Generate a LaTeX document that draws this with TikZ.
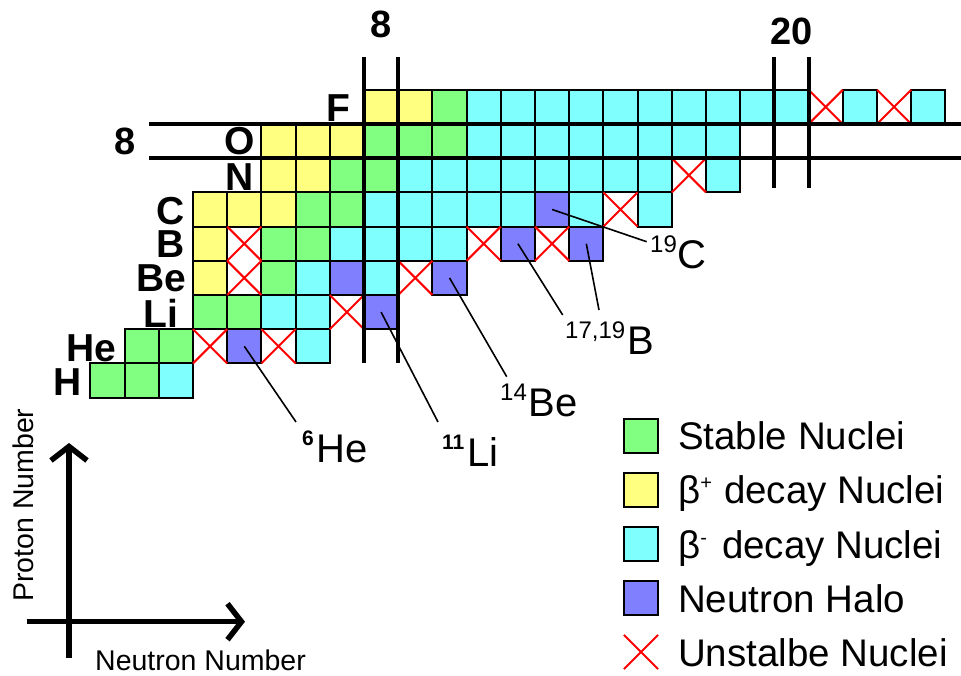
\documentclass[tikz,border=0pt]{standalone}
\usepackage{fontspec}
\setmainfont{Liberation Sans}
\usetikzlibrary{shapes.misc,arrows.meta}

% nuclide colours
\definecolor{nucg}{RGB}{128,255,128}% stable
\definecolor{nucy}{RGB}{255,255,128}% beta+ decay
\definecolor{nucc}{RGB}{128,255,255}% beta- decay
\definecolor{nuch}{RGB}{128,128,255}% neutron halo

\newcommand\supsz{\fontsize{24}{24}\selectfont}
\newcommand\boldsup{\fontsize{21}{21}\selectfont\bfseries}

\begin{document}
\begin{tikzpicture}[x=34.2pt,y=34.2pt,
  cell/.style={draw=black, line width=2pt, minimum size=34.2pt, inner sep=0pt, outer sep=0pt},
  unbound/.style={cross out, draw=red, line width=2pt, minimum size=34.2pt, inner sep=0pt, outer sep=0pt},
  magic/.style={line width=4pt},
  elem/.style={font={\fontsize{39}{39}\selectfont\bfseries}, anchor=base east, inner sep=0pt},
  magicnum/.style={font={\fontsize{38}{38}\selectfont\bfseries}, anchor=base, inner sep=0pt},
  isotope/.style={font={\fontsize{40}{40}\selectfont}, anchor=base west, inner sep=0pt},
  leader/.style={line width=1.6pt},
  legtext/.style={font={\fontsize{38.5}{38.5}\selectfont}, anchor=base west, inner sep=0pt},
  axisline/.style={line width=5.5pt, -{Straight Barb[length=14pt,width=36pt]}},
  axlabel/.style={font={\fontsize{28.5}{28.5}\selectfont}, inner sep=0pt},
]
\useasboundingbox (-2.6433,-7.1111) rectangle (25.4561,12.6257);

% coloured nuclides: row = proton number Z, entries = neutron number / kind
\foreach \z/\cells in {
  1/{0/g,1/g,2/c},
  2/{1/g,2/g,4/h,6/c},
  3/{3/g,4/g,5/c,6/c,8/h},
  4/{3/y,5/g,6/c,7/h,8/c,10/h},
  5/{3/y,5/g,6/g,7/c,8/c,9/c,10/c,12/h,14/h},
  6/{3/y,4/y,5/y,6/g,7/g,8/c,9/c,10/c,11/c,12/c,13/h,14/c,16/c},
  7/{5/y,6/y,7/g,8/g,9/c,10/c,11/c,12/c,13/c,14/c,15/c,16/c,18/c},
  8/{5/y,6/y,7/y,8/g,9/g,10/g,11/c,12/c,13/c,14/c,15/c,16/c,17/c,18/c},
  9/{8/y,9/y,10/g,11/c,12/c,13/c,14/c,15/c,16/c,17/c,18/c,19/c,20/c,22/c,24/c}}{
  \foreach \n/\k in \cells {
    \node[cell, fill=nuc\k] (n\n-\z) at (\n+0.5,\z+0.5) {};
  }
}

% unbound nuclides
\foreach \n/\z in {3/2,5/2,7/3,4/4,9/4,4/5,11/5,13/5,15/6,17/7,21/9,23/9}{
  \node[unbound] (x\n-\z) at (\n+0.5,\z+0.5) {};
}

% magic number lines
\coordinate (m8a-top) at (8,10.95);  \coordinate (m8a-bot) at (8,2);
\coordinate (m8b-top) at (9,10.95);  \coordinate (m8b-bot) at (9,2);
\coordinate (m20a-top) at (20,10.95); \coordinate (m20a-bot) at (20,7.12);
\coordinate (m20b-top) at (21,10.95); \coordinate (m20b-bot) at (21,7.12);
\coordinate (z8a-l) at (1.72,9); \coordinate (z8a-r) at (25.46,9);
\coordinate (z8b-l) at (1.72,8); \coordinate (z8b-r) at (25.46,8);
\draw[magic] (m8a-top) -- (m8a-bot);
\draw[magic] (m8b-top) -- (m8b-bot);
\draw[magic] (m20a-top) -- (m20a-bot);
\draw[magic] (m20b-top) -- (m20b-bot);
\draw[magic] (z8a-l) -- (z8a-r);
\draw[magic] (z8b-l) -- (z8b-r);

\node[magicnum] (lab-n8) at (8.5,11.515) {8};
\node[magicnum] (lab-n20) at (20.5,11.31) {20};
\node[magicnum] (lab-z8) at (1.01,8.094) {8};

% element symbols
\node[elem] (el-H)  at (-0.25,1.076) {H};
\node[elem] (el-He) at (0.77,2.041) {He};
\node[elem] (el-Li) at (2.58,3.064) {Li};
\node[elem] (el-Be) at (2.80,4.088) {Be};
\node[elem] (el-B)  at (2.75,5.111) {B};
\node[elem] (el-C)  at (2.75,6.06) {C};
\node[elem] (el-N)  at (4.78,7.07) {N};
\node[elem] (el-O)  at (4.80,8.12) {O};
\node[elem] (el-F)  at (7.60,9.06) {F};

% halo nuclei labels
\node[isotope] (iso-he6) at (6.187,-0.883) {\raisebox{17pt}{\boldsup 6}\hspace{3pt}He};
\node[isotope] (iso-li11) at (10.281,-1.029) {\raisebox{17pt}{\boldsup 11}\hspace{3pt}Li};
\node[isotope] (iso-be14) at (11.977,0.433) {\raisebox{16pt}{\supsz 14}\hspace{2pt}Be};
\node[isotope] (iso-b1719) at (13.877,2.246) {\raisebox{16pt}{\supsz 17,19}\hspace{2pt}B};
\node[isotope] (iso-c19) at (16.363,4.789) {\raisebox{16pt}{\supsz 19}\hspace{1pt}C};

\coordinate (he6-end) at (6.012,0.287);
\coordinate (li11-end) at (10.164,0.287);
\coordinate (be14-end) at (12.173,1.611);
\coordinate (b17-end) at (13.810,3.415);
\coordinate (b19-end) at (14.871,3.561);
\coordinate (c19-end) at (16.266,5.558);
\draw[leader] (n4-2.center) -- (he6-end);
\draw[leader] (n8-3.center) -- (li11-end);
\draw[leader] (n10-4.center) -- (be14-end);
\draw[leader] (n12-5.center) -- (b17-end);
\draw[leader] (n14-5.center) -- (b19-end);
\draw[leader] (n13-6.center) -- (c19-end);

% axes
\coordinate (yax-from) at (-0.626,-6.614);
\coordinate (yax-to) at (-0.626,-0.327);
\coordinate (xax-from) at (-1.854,-5.553);
\coordinate (xax-to) at (4.520,-5.553);
\draw[axisline] (yax-from) -- (yax-to);
\draw[axisline] (xax-from) -- (xax-to);
\node[axlabel, rotate=90, anchor=base west] (lab-proton) at (-1.670,-4.977) {Proton Number};
\node[axlabel, anchor=base west] (lab-neutron) at (0.135,-6.965) {Neutron Number};

% legend
\node[cell, fill=nucg] (leg-g) at (16.099,-0.123) {};
\node[cell, fill=nucy] (leg-y) at (16.099,-1.702) {};
\node[cell, fill=nucc] (leg-c) at (16.099,-3.281) {};
\node[cell, fill=nuch] (leg-h) at (16.099,-4.860) {};
\node[unbound] (leg-x) at (16.099,-6.439) {};
\node[legtext] (legt-g) at (17.181,-0.532) {Stable Nuclei};
\node[legtext] (legt-y) at (17.181,-2.111) {β\raisebox{14pt}{\fontsize{20}{20}\selectfont +}\hspace{12pt}decay Nuclei};
\node[legtext] (legt-c) at (17.181,-3.690) {β\raisebox{14pt}{\fontsize{20}{20}\selectfont -}\hspace{15pt}decay Nuclei};
\node[legtext] (legt-h) at (17.181,-5.269) {Neutron Halo};
\node[legtext] (legt-x) at (17.181,-6.848) {Unstalbe Nuclei};
\end{tikzpicture}
\end{document}
